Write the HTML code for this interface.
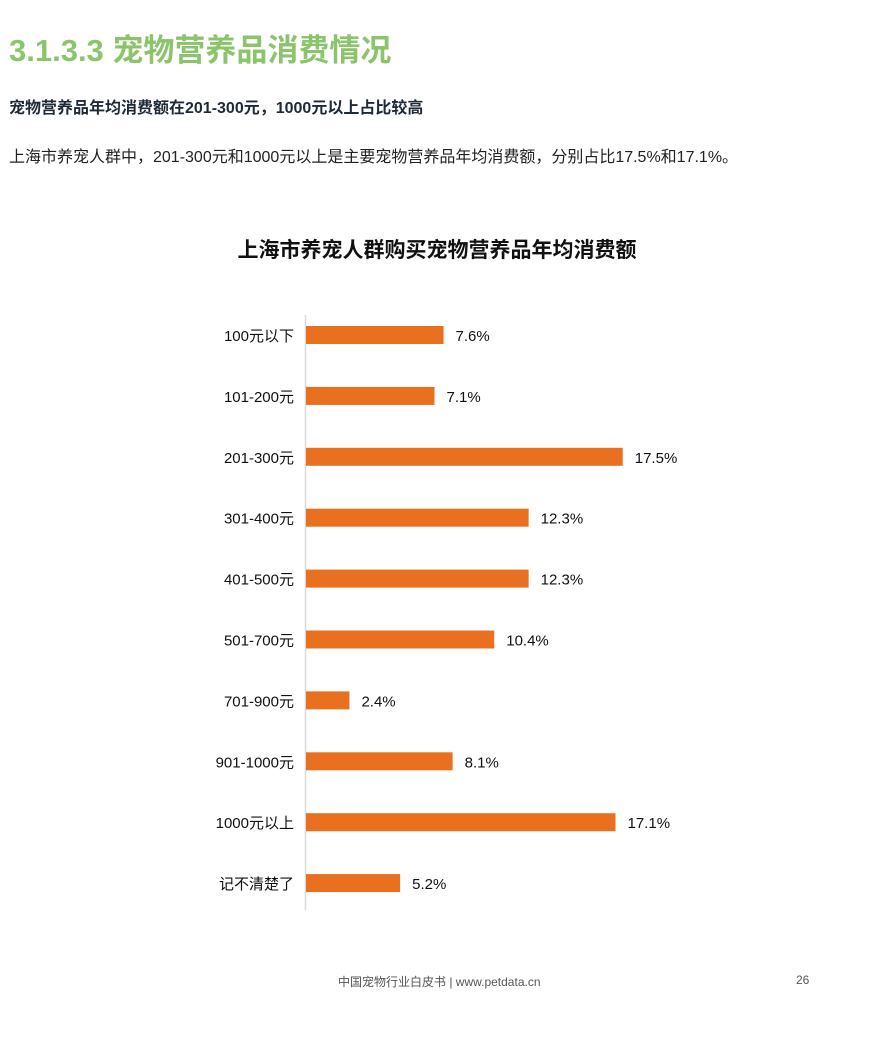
<!DOCTYPE html>
<html><head><meta charset="utf-8"><style>
body{margin:0;width:874px;height:1038px;background:#fff;position:relative;overflow:hidden;font-family:"Liberation Sans","Noto Sans CJK SC",sans-serif}
.t{position:absolute;white-space:nowrap}
</style></head><body>
<div class="t" style="left:9px;top:25px;font-size:31px;font-weight:bold;color:#8cc46c">3.1.3.3 宠物营养品消费情况</div>
<div class="t" style="left:9px;top:94px;font-size:16px;font-weight:bold;color:#1e2a36">宠物营养品年均消费额在201-300元，1000元以上占比较高</div>
<div class="t" style="left:9px;top:143px;font-size:16px;color:#222">上海市养宠人群中，201-300元和1000元以上是主要宠物营养品年均消费额，分别占比17.5%和17.1%。</div>
<svg id="chart" width="874" height="1038" style="position:absolute;left:0;top:0">
<text x="437" y="257" text-anchor="middle" font-size="21" font-weight="bold" fill="#111">上海市养宠人群购买宠物营养品年均消费额</text>
<line x1="305.5" y1="315" x2="305.5" y2="910" stroke="#d9d9d9" stroke-width="1.5"/>
<g id="bars"></g>
</svg>
<div class="t" style="left:338px;top:973px;font-size:12px;color:#555">中国宠物行业白皮书 | www.petdata.cn</div>
<div class="t" style="left:796px;top:973px;font-size:12px;color:#555">26</div>
<script>
const categories=["100元以下","101-200元","201-300元","301-400元","401-500元","501-700元","701-900元","901-1000元","1000元以上","记不清楚了"];
const values=[7.6,7.1,17.5,12.3,12.3,10.4,2.4,8.1,17.1,5.2];
const labels=["7.6%","7.1%","17.5%","12.3%","12.3%","10.4%","2.4%","8.1%","17.1%","5.2%"];
const NS="http://www.w3.org/2000/svg";
const g=document.getElementById('bars');
const x=v=>306+v*18.1;
const y=i=>335+i*60.9;
categories.forEach((c,i)=>{
 const cy=y(i);
 const r=document.createElementNS(NS,'rect');
 r.setAttribute('x',306);r.setAttribute('y',cy-9);r.setAttribute('width',x(values[i])-306);r.setAttribute('height',18);r.setAttribute('fill','#e8701f');
 
 
 g.appendChild(r);
 const t=document.createElementNS(NS,'text');
 t.setAttribute('x',294);t.setAttribute('y',cy+6);t.setAttribute('text-anchor','end');t.setAttribute('font-size','15');t.setAttribute('fill','#111');t.textContent=c;
 
 
 g.appendChild(t);
 const v=document.createElementNS(NS,'text');
 v.setAttribute('x',x(values[i])+12);v.setAttribute('y',cy+6);v.setAttribute('font-size','15');v.setAttribute('fill','#111');v.textContent=labels[i];
 
 
 g.appendChild(v);
});
</script>
</body></html>
